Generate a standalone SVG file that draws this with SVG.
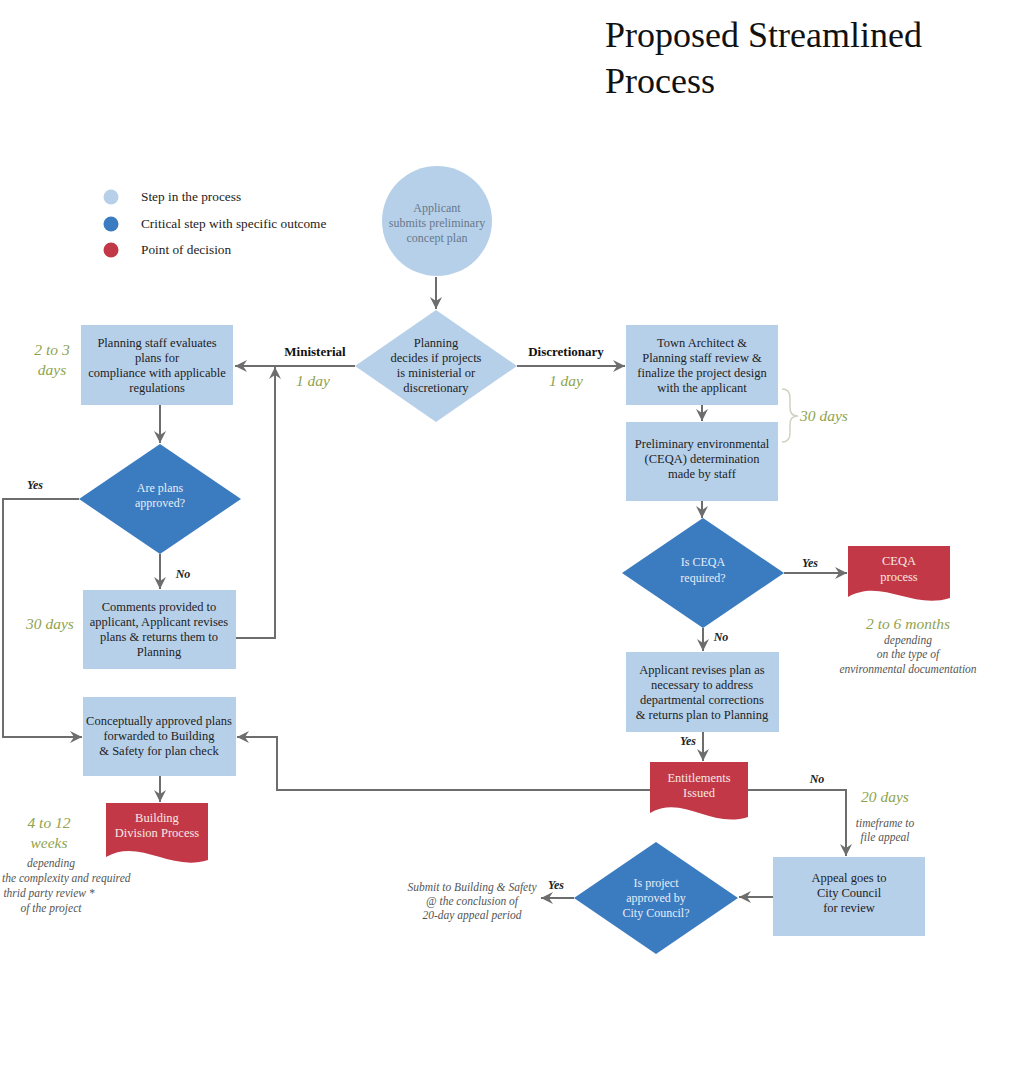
<svg xmlns="http://www.w3.org/2000/svg" width="1026" height="1066" viewBox="0 0 1026 1066">
<defs>
<style>
text{font-family:"Liberation Serif","Times New Roman",serif;}
.t{font-size:12.5px;fill:#222;text-anchor:middle;}
.tc{font-size:12px;fill:#66788a;text-anchor:middle;}
.tw{font-size:12px;fill:#e8eef8;text-anchor:middle;}
.tr{font-size:12.5px;fill:#f5e8e2;text-anchor:middle;}
.lbl{font-size:13px;font-weight:bold;fill:#111;text-anchor:middle;}
.g{font-size:15.5px;font-style:italic;fill:#8fa34e;text-anchor:middle;}
.gs{font-size:11.5px;font-style:italic;fill:#555;text-anchor:middle;}
.yn{font-size:12px;font-style:italic;font-weight:bold;fill:#222;text-anchor:middle;}
.leg{font-size:13.3px;fill:#222;}
.box{fill:#b7d0ea;}
.dk{fill:#3b7bc0;}
.red{fill:#c23847;}
.c{fill:none;stroke:#6d6d6d;stroke-width:2;}
</style>
<marker id="ah" markerUnits="userSpaceOnUse" markerWidth="12" markerHeight="12" viewBox="0 0 12 12" refX="12" refY="6" orient="auto">
<path d="M0,0 L12,6 L0,12 L4,6 Z" fill="#6d6d6d"/>
</marker>
</defs>
<rect width="1026" height="1066" fill="#fff"/>

<g id="title">
<text x="605" y="47" font-size="36" fill="#111">Proposed Streamlined</text>
<text x="605" y="93" font-size="36" fill="#111">Process</text>
</g>

<g id="legend">
<circle cx="111" cy="197" r="7.5" class="box"/>
<circle cx="111" cy="224" r="7.5" class="dk"/>
<circle cx="111" cy="250" r="7.5" class="red"/>
<text x="141" y="201" class="leg">Step in the process</text>
<text x="141" y="228" class="leg">Critical step with specific outcome</text>
<text x="141" y="254" class="leg">Point of decision</text>
</g>

<g id="connectors">
<path class="c" d="M436,277 V309" marker-end="url(#ah)"/>
<path class="c" d="M355,366 H235" marker-end="url(#ah)"/>
<path class="c" d="M517,366 H625" marker-end="url(#ah)"/>
<path class="c" d="M160,405 V443" marker-end="url(#ah)"/>
<path class="c" d="M160,554 V589" marker-end="url(#ah)"/>
<path class="c" d="M79,499 H3 V737 H82" marker-end="url(#ah)"/>
<path class="c" d="M236,638 H275 V367" marker-end="url(#ah)"/>
<path class="c" d="M160,776 V802" marker-end="url(#ah)"/>
<path class="c" d="M702,405 V421" marker-end="url(#ah)"/>
<path class="c" d="M702,501 V518" marker-end="url(#ah)"/>
<path class="c" d="M784,573 H847" marker-end="url(#ah)"/>
<path class="c" d="M703,628 V651" marker-end="url(#ah)"/>
<path class="c" d="M703,732 V761" marker-end="url(#ah)"/>
<path class="c" d="M650,790 H277 V737 H237" marker-end="url(#ah)"/>
<path class="c" d="M748,790 H846 V856" marker-end="url(#ah)"/>
<path class="c" d="M773,897 H739" marker-end="url(#ah)"/>
<path class="c" d="M574,898 H541" marker-end="url(#ah)"/>
</g>

<g id="n-applicant">
<circle cx="437" cy="221" r="55" class="box"/>
<text class="tc" x="437" y="212">Applicant</text>
<text class="tc" x="437" y="227">submits preliminary</text>
<text class="tc" x="437" y="242">concept plan</text>
</g>

<g id="n-decide">
<polygon class="box" points="436,310 517,366 436,422 355,366"/>
<text class="t" x="436" y="347">Planning</text>
<text class="t" x="436" y="362">decides if projects</text>
<text class="t" x="436" y="377">is ministerial or</text>
<text class="t" x="436" y="392">discretionary</text>
</g>

<g id="l-ministerial">
<text class="lbl" x="315" y="356">Ministerial</text>
<text class="g" x="313" y="386">1 day</text>
</g>
<g id="l-discretionary">
<text class="lbl" x="566" y="356">Discretionary</text>
<text class="g" x="566" y="386">1 day</text>
</g>

<g id="n-evaluate">
<rect class="box" x="81" y="325" width="152" height="80"/>
<text class="t" x="157" y="347">Planning staff evaluates</text>
<text class="t" x="157" y="362">plans for</text>
<text class="t" x="157" y="377">compliance with applicable</text>
<text class="t" x="157" y="392">regulations</text>
<text class="g" x="52" y="355">2 to 3</text>
<text class="g" x="52" y="375">days</text>
</g>

<g id="n-approved">
<polygon class="dk" points="160,444 241,499 160,554 79,499"/>
<text class="tw" x="160" y="492">Are plans</text>
<text class="tw" x="160" y="507">approved?</text>
<text class="yn" x="35" y="489">Yes</text>
<text class="yn" x="183" y="578">No</text>
</g>

<g id="n-comments">
<rect class="box" x="83" y="590" width="153" height="79"/>
<text class="t" x="159" y="611">Comments provided to</text>
<text class="t" x="159" y="626">applicant, Applicant revises</text>
<text class="t" x="159" y="641">plans &amp; returns them to</text>
<text class="t" x="159" y="656">Planning</text>
<text class="g" x="50" y="629">30 days</text>
</g>

<g id="n-forward">
<rect class="box" x="83" y="697" width="153" height="79"/>
<text class="t" x="159" y="725">Conceptually approved plans</text>
<text class="t" x="159" y="740">forwarded to Building</text>
<text class="t" x="159" y="755">&amp; Safety for plan check</text>
</g>

<g id="n-building">
<path class="red" d="M106,803 H208 V860 C170,872 140,838 106,857 Z"/>
<text class="tr" x="157" y="822">Building</text>
<text class="tr" x="157" y="837">Division Process</text>
<text class="g" x="49" y="828">4 to 12</text>
<text class="g" x="49" y="848">weeks</text>
<text class="gs" x="51" y="867">depending</text>
<text class="gs" x="2" y="882" text-anchor="start" style="text-anchor:start">the complexity and required</text>
<text class="gs" x="49" y="897">thrid party review *</text>
<text class="gs" x="51" y="912">of the project</text>
</g>

<g id="n-town">
<rect class="box" x="626" y="325" width="152" height="80"/>
<text class="t" x="702" y="347">Town Architect &amp;</text>
<text class="t" x="702" y="362">Planning staff review &amp;</text>
<text class="t" x="702" y="377">finalize the project design</text>
<text class="t" x="702" y="392">with the applicant</text>
</g>

<g id="n-prelim">
<rect class="box" x="626" y="422" width="152" height="79"/>
<text class="t" x="702" y="448">Preliminary environmental</text>
<text class="t" x="702" y="463">(CEQA) determination</text>
<text class="t" x="702" y="478">made by staff</text>
</g>

<g id="l-30days">
<path d="M782,389 Q790,389 790,398 V408 Q790,416 798,416 Q790,416 790,424 V433 Q790,442 782,442" fill="none" stroke="#cdd3bf" stroke-width="1.5"/>
<text class="g" x="824" y="421">30 days</text>
</g>

<g id="n-ceqareq">
<polygon class="dk" points="703,518 784,573 703,628 622,573"/>
<text class="tw" x="703" y="566">Is CEQA</text>
<text class="tw" x="703" y="582">required?</text>
<text class="yn" x="810" y="567">Yes</text>
<text class="yn" x="721" y="641">No</text>
</g>

<g id="n-ceqa">
<path class="red" d="M848,546 H950 V598 C912,610 882,578 848,597 Z"/>
<text class="tr" x="899" y="565">CEQA</text>
<text class="tr" x="899" y="581">process</text>
<text class="g" x="908" y="629">2 to 6 months</text>
<text class="gs" x="908" y="644">depending</text>
<text class="gs" x="908" y="658">on the type of</text>
<text class="gs" x="908" y="673">environmental documentation</text>
</g>

<g id="n-revise">
<rect class="box" x="626" y="652" width="153" height="80"/>
<text class="t" x="702" y="674">Applicant revises plan as</text>
<text class="t" x="702" y="689">necessary to address</text>
<text class="t" x="702" y="704">departmental corrections</text>
<text class="t" x="702" y="719">&amp; returns plan to Planning</text>
<text class="yn" x="688" y="745">Yes</text>
</g>

<g id="n-entitlements">
<path class="red" d="M650,762 H748 V817 C711,829 683,794 650,813 Z"/>
<text class="tr" x="699" y="782">Entitlements</text>
<text class="tr" x="699" y="797">Issued</text>
<text class="yn" x="817" y="783">No</text>
<text class="g" x="885" y="802">20 days</text>
<text class="gs" x="885" y="827">timeframe to</text>
<text class="gs" x="885" y="841">file appeal</text>
</g>

<g id="n-appeal">
<rect class="box" x="773" y="857" width="152" height="79"/>
<text class="t" x="849" y="882">Appeal goes to</text>
<text class="t" x="849" y="897">City Council</text>
<text class="t" x="849" y="912">for review</text>
</g>

<g id="n-council">
<polygon class="dk" points="656,842 738,898 656,954 574,898"/>
<text class="tw" x="656" y="887">Is project</text>
<text class="tw" x="656" y="902">approved by</text>
<text class="tw" x="656" y="917">City Council?</text>
<text class="yn" x="556" y="889">Yes</text>
<text class="gs" x="472" y="891">Submit to Building &amp; Safety</text>
<text class="gs" x="472" y="905">@ the conclusion of</text>
<text class="gs" x="472" y="919">20-day appeal period</text>
</g>
</svg>
